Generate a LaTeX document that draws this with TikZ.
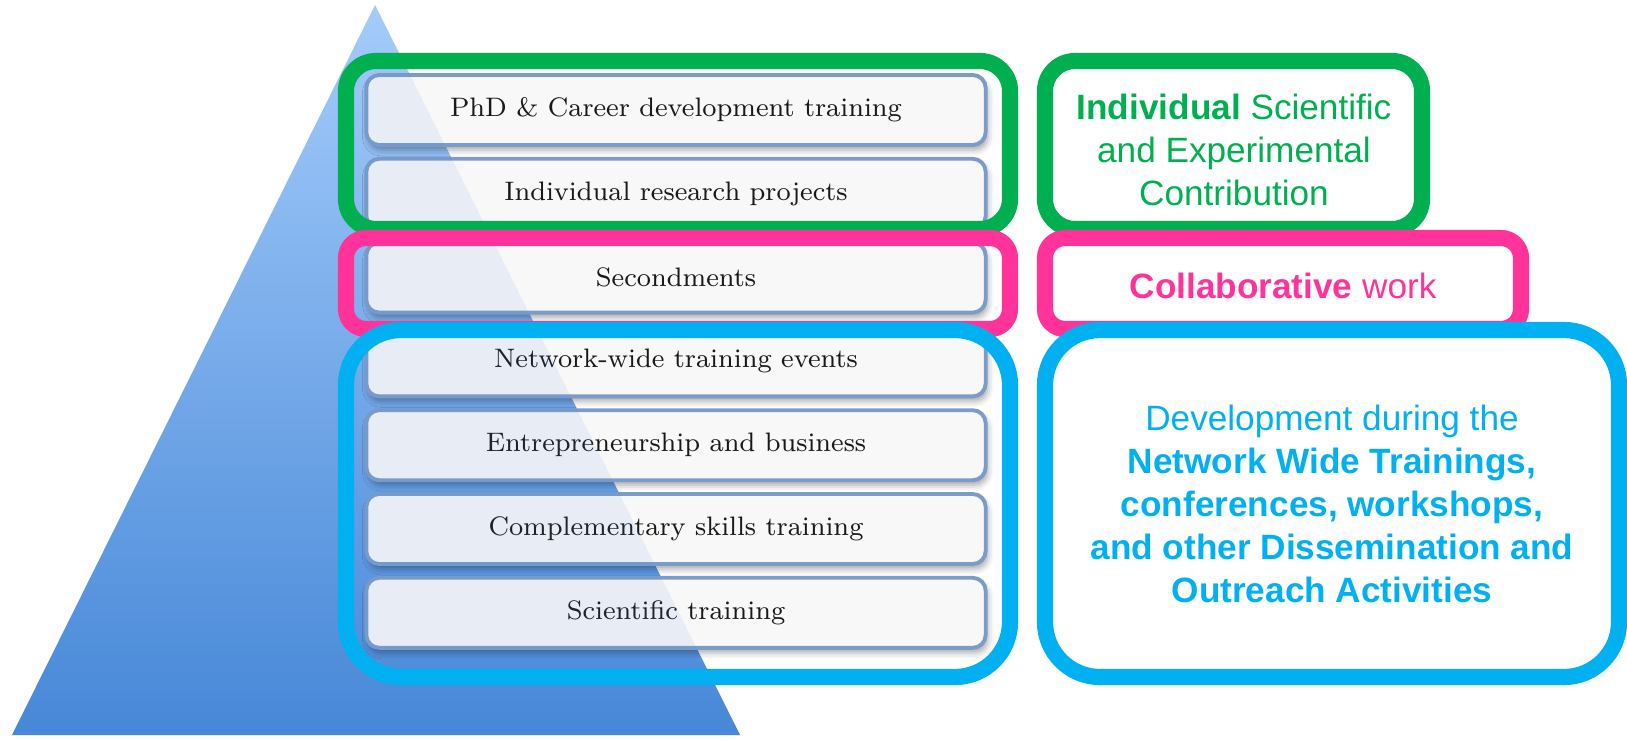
\documentclass[tikz,border=0pt]{standalone}
\usepackage{fontspec}
\usepackage{xcolor}
\newfontfamily\arialfont{Liberation Sans}
\definecolor{mgreen}{HTML}{00B050}
\definecolor{mpink}{HTML}{FF3399}
\definecolor{mblue}{HTML}{00B0F0}
\definecolor{tritop}{HTML}{AED3FF}
\definecolor{tribot}{HTML}{4788D8}
\definecolor{barline}{HTML}{7B9CCB}
\definecolor{barfill}{HTML}{F8F8F8}
\usepackage{tikz}
\usetikzlibrary{shadows.blur}

\tikzset{
  levelbar/.style={draw=barline, line width=1.1pt, fill=barfill,
    rounded corners=1.3mm, minimum width=6.19cm, minimum height=0.70cm,
    font=\fontsize{7.6}{9}\selectfont, text=black!90,
    blur shadow={shadow xshift=0.6pt, shadow yshift=-1.4pt, shadow blur steps=4, shadow opacity=35}},
  ringbox/.style={line width=4.6pt, rounded corners=#1},
  sidetext/.style={align=center, font=\arialfont\fontsize{10}{12.2}\selectfont}
}

\begin{document}
\begin{tikzpicture}[x=0.01cm, y=-0.01cm]

            \useasboundingbox (0,0) rectangle (1627,739);

            % pyramid
            \shade[top color=tritop, bottom color=tribot] (375,5) -- (12,735) -- (740,735) -- cycle;

            % training levels
            \foreach \txt [count=\i from 0] in {PhD \& Career development training, Individual research projects, Secondments, Network-wide training events, Entrepreneurship and business, Complementary skills training, Scientific training}
              \node[levelbar] (lvl\i) at (676, 110+83.8*\i) {\txt};

            % pyramid showing through the bars
            \fill[tribot, fill opacity=0.09] (375,5) -- (12,735) -- (740,735) -- cycle;

            % frames
            \draw[ringbox=3mm, draw=mgreen] (346,61) rectangle (1010,229);
            \draw[ringbox=3mm, draw=mgreen] (1045,61) rectangle (1422,229);
            \draw[ringbox=2mm, draw=mpink] (346,238) rectangle (1010,329);
            \draw[ringbox=2mm, draw=mpink] (1045,238) rectangle (1521,329);
            \draw[ringbox=5.5mm, draw=mblue] (346,330) rectangle (1010,677);
            \draw[ringbox=5.5mm, draw=mblue] (1045,330) rectangle (1619,677);

            \node[sidetext, text=mgreen] (indiv) at (1234,150) {\textbf{Individual} Scientific\\and Experimental\\Contribution};
            \node[sidetext, text=mpink] (collab) at (1283,286) {\textbf{Collaborative} work};
            \node[sidetext, text=mblue] (devel) at (1332,504) {Development during the\\\textbf{Network Wide Trainings,}\\\textbf{conferences, workshops,}\\\textbf{and other Dissemination and}\\\textbf{Outreach Activities}};

          \end{tikzpicture}
\end{document}
